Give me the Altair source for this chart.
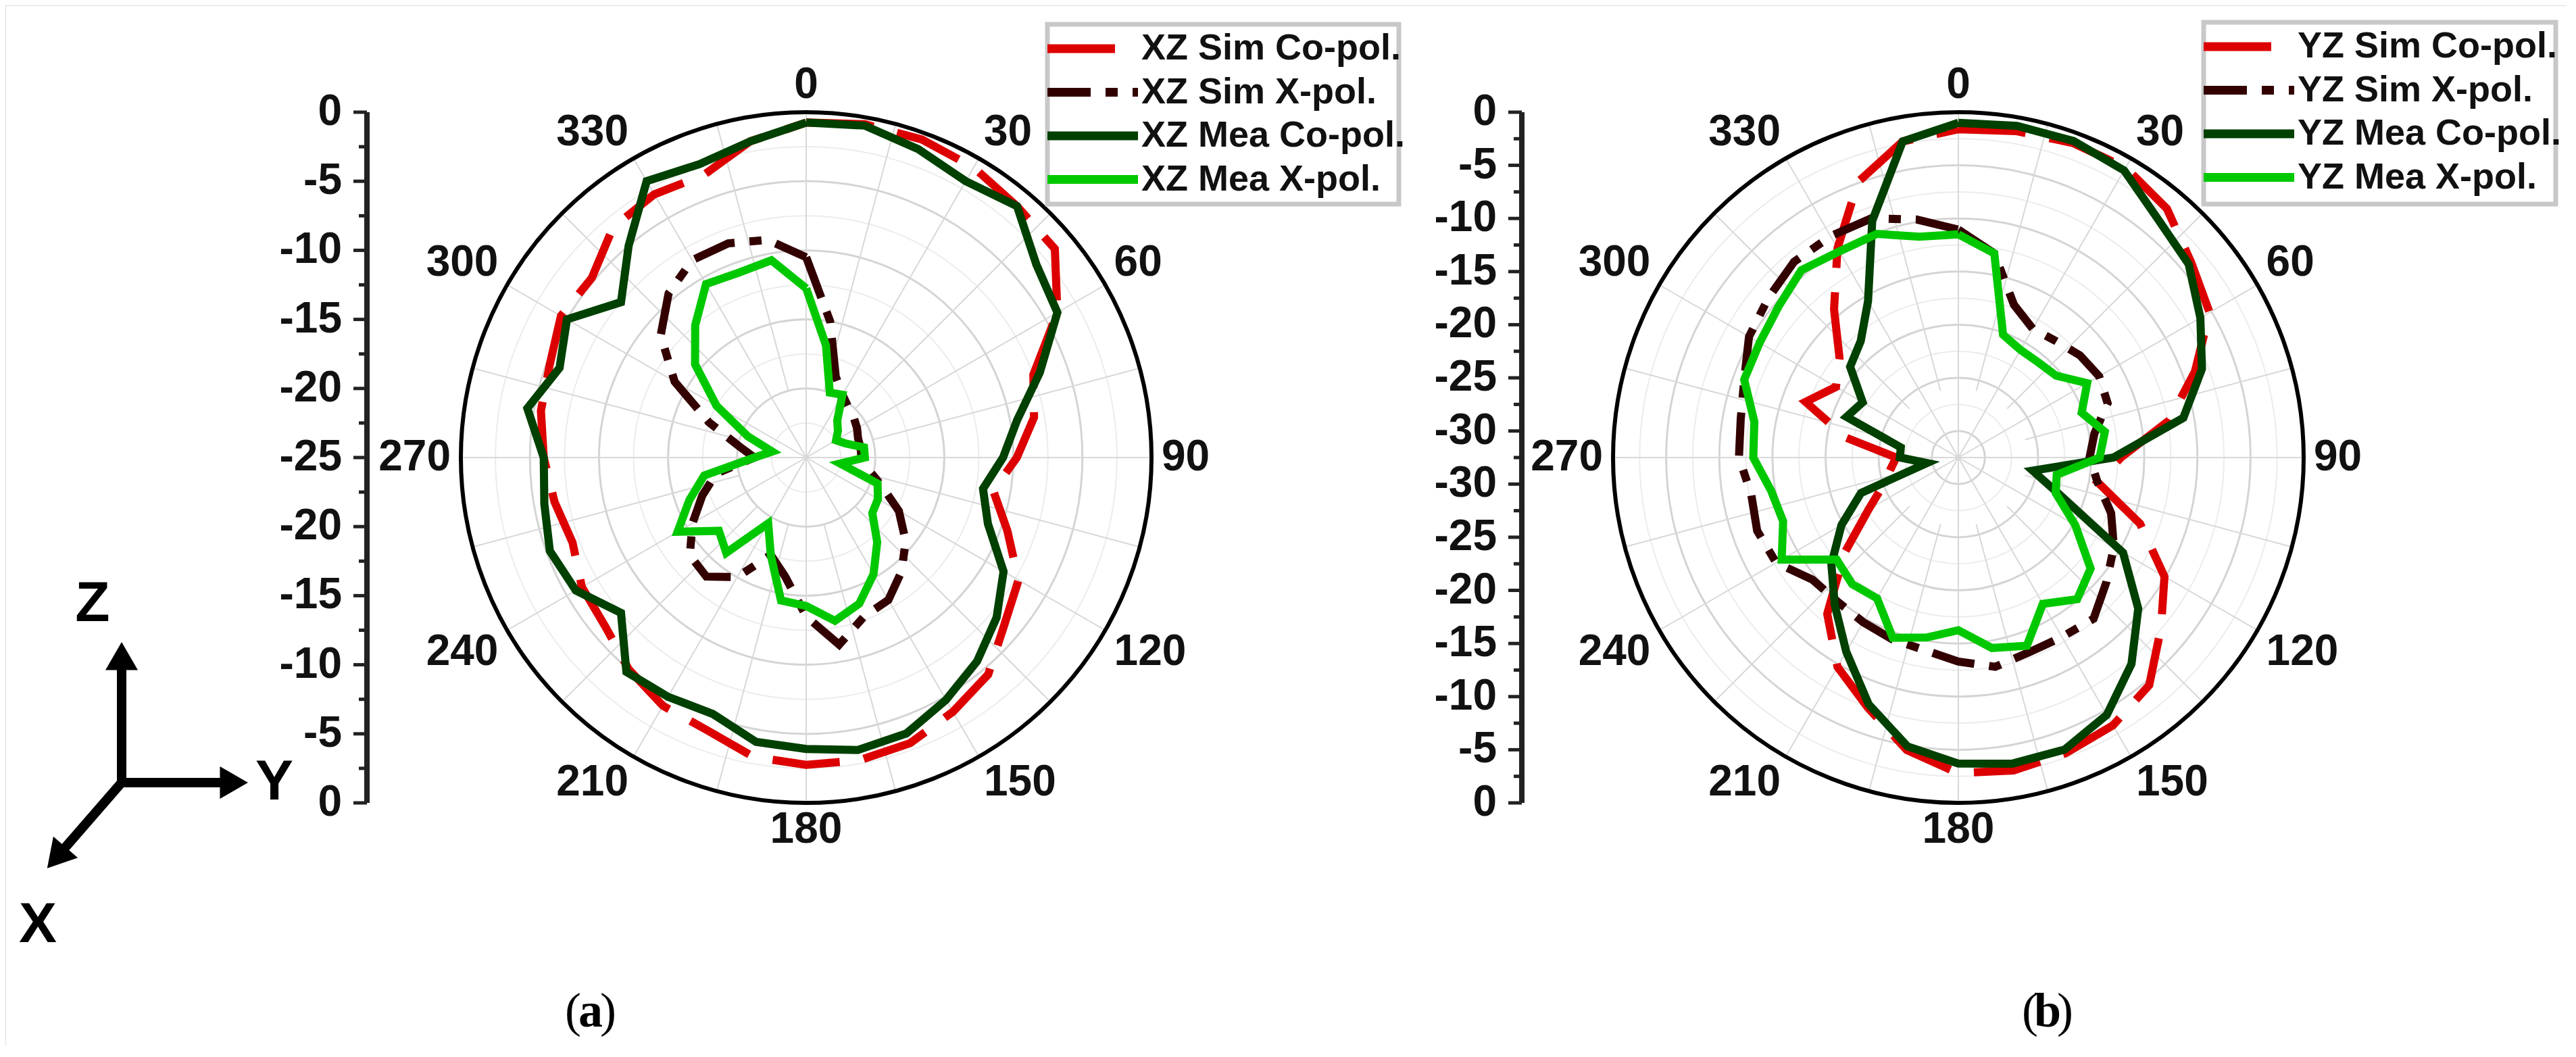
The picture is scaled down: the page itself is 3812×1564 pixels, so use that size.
import altair as alt
import pandas as pd

# ---------------- data (dB vs angle) ----------------
ANGLES = list(range(0, 360, 10))

XZ_SIM_CO = [-0.75, -0.5, -0.5, -0.75, -1.25, -1.5, -4.0, -7.5, -8.25, -9.75, -11.25, -9.5,
             -7.25, -6.25, -4.5, -3.75, -3.0, -2.75, -2.75, -3.0, -4.0, -4.25, -5.0, -6.0,
             -6.25, -7.0, -6.5, -6.0, -5.5, -5.25, -4.5, -4.75, -3.25, -3.0, -3.25, -1.75]
XZ_SIM_X = [-10.5, -15.0, -18.75, -19.75, -20.25, -20.5, -20.75, -21.0, -21.0, -21.0, -20.5, -19.25,
            -17.25, -15.6, -14.25, -13.1, -12.75, -11.25, -13.5, -16.25, -17.5, -15.0, -13.75, -14.0,
            -15.5, -17.0, -18.4, -21.25, -20.0, -17.5, -14.0, -11.25, -9.5, -8.5, -8.5, -9.0]
XZ_MEA_CO = [-0.75, -0.6, -1.25, -1.9, -1.25, -3.25, -4.0, -7.0, -9.5, -10.75, -12.0, -11.0,
             -8.5, -7.0, -5.75, -4.75, -3.75, -3.5, -3.9, -4.1, -5.25, -5.0, -4.75, -7.5,
             -5.75, -5.25, -5.75, -6.0, -4.5, -6.0, -5.0, -7.5, -5.0, -1.9, -2.4, -1.75]
XZ_MEA_X = [-12.75, -16.75, -20.0, -19.75, -21.5, -22.0, -22.5, -22.0, -20.75, -20.75, -22.5, -19.5,
            -19.0, -18.75, -17.0, -15.25, -13.75, -13.0, -14.25, -14.5, -17.5, -19.5, -16.0, -16.75,
            -14.25, -16.0, -17.5, -21.25, -22.5, -20.5, -17.5, -14.5, -12.5, -10.5, -10.75, -10.5]

YZ_SIM_CO = [-1.6, -1.3, -1.0, -1.0, -1.95, -3.9, -5.2, -8.8, -12.35, -17.2, -19.2, -14.3,
             -10.1, -7.6, -4.55, -3.4, -2.9, -2.6, -2.8, -4.55, -7.5, -9.75, -13.3, -18.5,
             -22.75, -25.0, -26.0, -26.65, -21.8, -17.2, -19.2, -17.9, -14.3, -9.75, -4.9, -2.3]
YZ_SIM_X = [-11.05, -13.0, -17.2, -18.5, -18.2, -17.55, -17.2, -17.55, -19.5, -20.15, -19.2, -17.2,
            -15.6, -14.3, -12.7, -13.0, -13.0, -12.5, -13.3, -14.1, -14.3, -14.6, -14.8, -14.6,
            -12.7, -12.35, -12.7, -11.85, -11.7, -11.05, -9.75, -9.15, -8.45, -8.45, -8.55, -9.75]
YZ_MEA_CO = [-1.0, -0.8, -0.8, -1.3, -3.25, -4.2, -6.2, -8.1, -11.0, -17.9, -25.4, -22.4,
             -14.6, -10.4, -7.15, -4.55, -3.25, -3.25, -3.7, -4.9, -7.8, -11.4, -14.4, -16.9,
             -19.8, -22.75, -29.5, -27.0, -27.0, -21.3, -22.1, -19.2, -18.2, -15.5, -8.8, -2.3]
YZ_MEA_X = [-11.5, -13.0, -20.2, -20.8, -20.8, -20.5, -18.5, -20.15, -18.5, -19.2, -23.1, -22.75,
            -19.8, -16.25, -15.1, -16.6, -13.65, -14.3, -16.25, -15.3, -14.45, -17.2, -16.95, -17.55,
            -13.3, -14.95, -14.6, -13.2, -13.0, -11.05, -10.9, -10.4, -9.5, -10.1, -10.1, -11.4]

SERIES_KEYS = ["Sim Co-pol.", "Sim X-pol.", "Mea Co-pol.", "Mea X-pol."]
ANGLE_LABELS = list(range(0, 360, 30))
SPOKE_ANGLES = list(range(0, 360, 15))

XZ_TICKS = [0, -5, -10, -15, -20, -25]
XZ_MINOR = [-2.5, -7.5, -12.5, -17.5, -22.5]
XZ_GRID_MAJOR = [-20, -15, -10, -5]
XZ_GRID_MINOR = [-22.5, -17.5, -12.5, -7.5, -2.5]

YZ_TICKS = [0, -5, -10, -15, -20, -25, -30]
YZ_MINOR = [-2.5, -7.5, -12.5, -17.5, -22.5, -27.5, -32.5]
YZ_GRID_MAJOR = [-30, -25, -20, -15, -10, -5]
YZ_GRID_MINOR = [-27.5, -22.5, -17.5, -12.5, -7.5, -2.5]

FRAME_LABELS = ["Z", "Y", "X"]
CAPTIONS = ["a", "b"]

# ---------------- styles / layout ----------------
STYLE = {
    "Sim Co-pol.": dict(color="#dd0000", dash=[100, 36]),
    "Sim X-pol.": dict(color="#330000", dash=[64, 22, 18, 22]),
    "Mea Co-pol.": dict(color="#004000", dash=None),
    "Mea X-pol.": dict(color="#00c800", dash=None),
}
FONT = "Liberation Sans"
W, H = 3790, 1540
XS = alt.Scale(domain=[8, 8 + W], nice=False, zero=False)
YS = alt.Scale(domain=[8, 8 + H], nice=False, zero=False, reverse=True)


def ex(f="x"):
    return alt.X(f"{f}:Q", scale=XS, axis=None)


def ey(f="y"):
    return alt.Y(f"{f}:Q", scale=YS, axis=None)


def polar_layers(prefix, cx, cy, R, dbmin, series_vals, ticks, minor, gmaj, gmin, axis_x, box):
    span = -dbmin
    fexpr = f"max(0, (datum.db - ({dbmin})) / {span})"
    layers = []
    # grid circles
    for vals, col, sw in [(gmin, "#ececec", 2), (gmaj, "#d4d4d4", 3)]:
        layers.append(
            alt.Chart(pd.DataFrame({"db": vals})).transform_calculate(
                f=fexpr, x=f"{cx}", y=f"{cy}", s=f"pow(2*{R}*datum.f, 2)"
            ).mark_point(filled=False, color=col, strokeWidth=sw, opacity=1, shape="circle").encode(
                x=ex(), y=ey(), size=alt.Size("s:Q", scale=None))
        )
    # spokes
    layers.append(
        alt.Chart(pd.DataFrame({"ang": SPOKE_ANGLES})).transform_calculate(
            r0="datum.ang % 30 == 0 ? 0 : 0.2",
            a="datum.ang * PI / 180",
            x=f"{cx} + {R} * datum.r0 * sin(datum.a)",
            y=f"{cy} - {R} * datum.r0 * cos(datum.a)",
            x2=f"{cx} + {R} * sin(datum.a)",
            y2=f"{cy} - {R} * cos(datum.a)",
        ).mark_rule(color="#d8d8d8", strokeWidth=2).encode(
            x=ex(), y=ey(), x2=alt.X2("x2:Q"), y2=alt.Y2("y2:Q"))
    )
    # outer circle
    layers.append(
        alt.Chart(pd.DataFrame({"db": [ticks[0]]})).transform_calculate(
            f=fexpr, x=f"{cx}", y=f"{cy}", s=f"pow(2*{R}*datum.f, 2)"
        ).mark_point(filled=False, color="#000000", strokeWidth=6, opacity=1, shape="circle").encode(
            x=ex(), y=ey(), size=alt.Size("s:Q", scale=None))
    )
    # series
    for key, vals in zip(SERIES_KEYS, series_vals):
        st = STYLE[key]
        mk = dict(color=st["color"], strokeWidth=12, strokeJoin="miter")
        if st["dash"]:
            mk["strokeDash"] = st["dash"]
        df = pd.DataFrame({"ang": ANGLES + [360], "db": vals + [vals[0]]})
        layers.append(
            alt.Chart(df).transform_calculate(
                f=fexpr, a="datum.ang * PI / 180",
                x=f"{cx} + {R} * datum.f * sin(datum.a)",
                y=f"{cy} - {R} * datum.f * cos(datum.a)",
            ).mark_line(**mk).encode(x=ex(), y=ey(), order="ang:Q")
        )
    # angle labels (bounding box kept ~15 px outside the circle)
    adf = pd.DataFrame({"ang": ANGLE_LABELS, "txt": [str(a) for a in ANGLE_LABELS]})
    layers.append(
        alt.Chart(adf).transform_calculate(
            a="datum.ang * PI / 180",
            hw="length(datum.txt) * 17.8",
            sx="abs(sin(datum.a)) < 1e-6 ? 0 : (sin(datum.a) > 0 ? 1 : -1)",
            sy="abs(cos(datum.a)) < 1e-6 ? 0 : (cos(datum.a) > 0 ? 1 : -1)",
            x=f"{cx} + ({R} + 15) * sin(datum.a) + datum.sx * datum.hw",
            y=f"{cy} - ({R} + 15) * cos(datum.a) - datum.sy * 25",
        ).mark_text(font=FONT, fontSize=64, fontWeight="bold", align="center", baseline="middle",
                    color="#111111").encode(x=ex(), y=ey(), text="txt:N")
    )
    # radial axis line
    layers.append(
        alt.Chart(pd.DataFrame({"db": [ticks[0]]})).transform_calculate(
            f=fexpr, x=f"{axis_x}", y=f"{cy} - {R} * datum.f", y2=f"{cy} + {R} * datum.f"
        ).mark_rule(color="#222222", strokeWidth=8).encode(x=ex(), y=ey(), y2=alt.Y2("y2:Q"))
    )
    # major ticks + labels
    tdf = pd.DataFrame([{"db": t, "side": s, "txt": str(t)} for t in ticks for s in (-1, 1)])
    tick_base = alt.Chart(tdf).transform_calculate(
        f=fexpr, r=f"{R} * datum.f"
    ).transform_filter("datum.side < 0 || datum.r > 0").transform_calculate(
        y=f"{cy} + datum.side * datum.r", x=f"{axis_x} - 20", x2=f"{axis_x}", tx=f"{axis_x} - 37"
    )
    layers.append(tick_base.mark_rule(color="#222222", strokeWidth=5).encode(
        x=ex(), x2=alt.X2("x2:Q"), y=ey()))
    layers.append(tick_base.mark_text(font=FONT, fontSize=64, fontWeight="bold", align="right",
                                      baseline="middle", color="#111111").encode(
        x=ex("tx"), y=ey(), text="txt:N"))
    # minor ticks
    mdf = pd.DataFrame([{"db": t, "side": s} for t in minor for s in (-1, 1)])
    layers.append(
        alt.Chart(mdf).transform_calculate(
            f=fexpr, r=f"{R} * datum.f"
        ).transform_filter("datum.side < 0 || datum.r > 0").transform_calculate(
            y=f"{cy} + datum.side * datum.r", x=f"{axis_x} - 12", x2=f"{axis_x}"
        ).mark_rule(color="#222222", strokeWidth=5).encode(x=ex(), x2=alt.X2("x2:Q"), y=ey())
    )
    # legend box
    bx, by, bx2, by2 = box
    layers.append(
        alt.Chart(pd.DataFrame({"k": [prefix]})).transform_calculate(
            x=f"{bx}", y=f"{by}", x2=f"{bx2}", y2=f"{by2}"
        ).mark_rect(fill="white", stroke="#c8c8c8", strokeWidth=7).encode(
            x=ex(), y=ey(), x2=alt.X2("x2:Q"), y2=alt.Y2("y2:Q"))
    )
    for i, key in enumerate(SERIES_KEYS):
        st = STYLE[key]
        mk = dict(color=st["color"], strokeWidth=13)
        if st["dash"]:
            mk["strokeDash"] = st["dash"]
        ldf = pd.DataFrame({"lab": [f"{prefix} {key}"], "i": [i]})
        base = alt.Chart(ldf).transform_calculate(
            y=f"{by} + 36 + 64.5 * datum.i", x=f"{bx}", x2=f"{bx} + 134", tx=f"{bx} + 139"
        )
        layers.append(base.mark_rule(**mk).encode(x=ex(), x2=alt.X2("x2:Q"), y=ey()))
        layers.append(base.mark_text(font=FONT, fontSize=54, fontWeight="bold", align="left",
                                     baseline="middle", color="#111111").encode(
            x=ex("tx"), y=ey(), text="lab:N"))
    return layers


CY = 677
R = 511
CX_L, CX_R = 1193, 2898

layers = []
layers += polar_layers("XZ", CX_L, CY, R, -25, [XZ_SIM_CO, XZ_SIM_X, XZ_MEA_CO, XZ_MEA_X],
                       XZ_TICKS, XZ_MINOR, XZ_GRID_MAJOR, XZ_GRID_MINOR, 543, (1550, 36, 2070, 302))
layers += polar_layers("YZ", CX_R, CY, R, -32.5, [YZ_SIM_CO, YZ_SIM_X, YZ_MEA_CO, YZ_MEA_X],
                       YZ_TICKS, YZ_MINOR, YZ_GRID_MAJOR, YZ_GRID_MINOR, 2252, (3261, 33, 3782, 302))

# coordinate frame (Z up, Y right, X down-left)
fdf = pd.DataFrame({
    "lab": FRAME_LABELS,
    "dir": [0, 90, 221],
    "len": [208, 187, 168],
    "tx": [137, 406, 56],
    "ty": [894, 1158, 1369],
})
fbase = alt.Chart(fdf).transform_calculate(
    a="datum.dir * PI / 180",
    ux="sin(datum.a)", uy="-cos(datum.a)",
    x="180", y="1158",
    x2="180 + (datum.len - 26) * datum.ux", y2="1158 + (datum.len - 26) * datum.uy",
    hx="180 + (datum.len - 20.8) * datum.ux", hy="1158 + (datum.len - 20.8) * datum.uy",
)
layers.append(fbase.mark_rule(color="black", strokeWidth=14, strokeCap="square").encode(
    x=ex(), y=ey(), x2=alt.X2("x2:Q"), y2=alt.Y2("y2:Q")))
layers.append(fbase.mark_point(shape="triangle-up", filled=True, color="black", opacity=1, size=2304).encode(
    x=ex("hx"), y=ey("hy"), angle=alt.Angle("dir:Q", scale=None)))
layers.append(fbase.mark_text(font=FONT, fontSize=84, fontWeight="bold", align="center",
                              baseline="middle", color="black").encode(x=ex("tx"), y=ey("ty"), text="lab:N"))

# captions (a), (b)
cdf = pd.DataFrame({"c": CAPTIONS, "i": [0, 1]})
cbase = alt.Chart(cdf).transform_calculate(
    x="datum.i == 0 ? 874 : 3030", y="1497", lp="'('", rp="')'"
)
layers.append(cbase.mark_text(font="Liberation Serif", fontSize=72, align="center", baseline="middle",
                              dx=-26, color="black").encode(x=ex(), y=ey(), text="lp:N"))
layers.append(cbase.mark_text(font="Liberation Serif", fontSize=72, fontWeight="bold", align="center",
                              baseline="middle", color="black").encode(x=ex(), y=ey(), text="c:N"))
layers.append(cbase.mark_text(font="Liberation Serif", fontSize=72, align="center", baseline="middle",
                              dx=26, color="black").encode(x=ex(), y=ey(), text="rp:N"))

chart = alt.layer(*layers).properties(
    width=W, height=H, padding=0, autosize=alt.AutoSizeParams(type="none")
).configure_view(stroke=None).configure(background="white")

chart.save("out.html", embed_options={"renderer": "svg", "actions": False})
